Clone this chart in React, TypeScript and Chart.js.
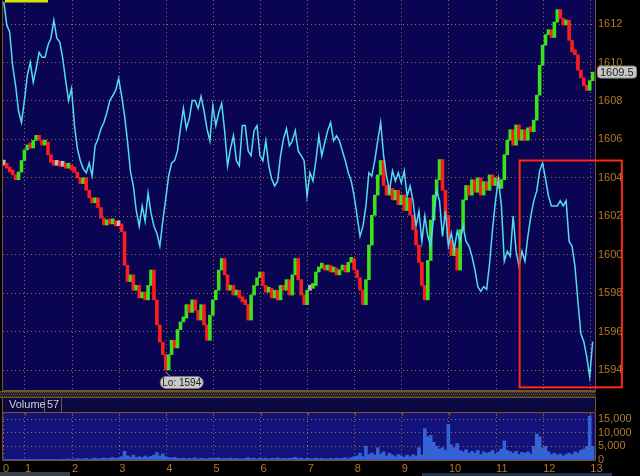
import React, { useEffect, useRef } from "react";
import { Chart, registerables } from "chart.js";

Chart.register(...registerables);
Chart.defaults.font.family = '"Liberation Sans", Arial, sans-serif';

// ---------- data ----------
const T0 = 0.55; // hours, first sample
const STEP = 0.0625; // hours between samples
const X_MIN = 0.533;
const X_MAX = 13.1;
const HOUR_TICKS = [1, 2, 3, 4, 5, 6, 7, 8, 9, 10, 11, 12, 13];

const PRICE_MIN = 1592.96;
const PRICE_MAX = 1613.25;
const PRICE_TICKS = [1594, 1596, 1598, 1600, 1602, 1604, 1606, 1608, 1610, 1612];

const VOLUME_MAX = 17200;
const VOLUME_TICKS = [0, 5000, 10000, 15000];
const VOLUME_LAST = "57";

const CLOSE = [
  1604.66, 1604.5, 1604.3, 1604.15, 1603.9, 1604.3, 1604.9, 1605.45, 1605.7, 1605.55,
  1605.95, 1606.2, 1605.95, 1605.7, 1605.85, 1605.2, 1604.8, 1604.65, 1604.75, 1604.6,
  1604.65, 1604.5, 1604.65, 1604.4, 1604.3, 1604.0, 1603.7, 1604.0, 1603.35, 1602.95,
  1602.7, 1602.95, 1602.45, 1601.9, 1601.55, 1601.7, 1601.6, 1601.7, 1601.5, 1601.6,
  1601.2, 1599.45, 1598.6, 1598.95, 1598.15, 1598.4, 1597.75, 1598.05, 1597.65, 1598.4,
  1599.2, 1597.65, 1596.35, 1595.45, 1594.8, 1594.0, 1594.8, 1595.55, 1595.15, 1596.1,
  1596.5, 1596.7, 1597.4, 1597.0, 1597.65, 1597.1, 1596.6, 1597.4, 1596.35, 1595.55,
  1596.85, 1597.65, 1598.15, 1599.2, 1599.8, 1598.95, 1598.15, 1598.4, 1597.9, 1598.15,
  1597.75, 1597.55, 1597.4, 1596.6, 1597.9, 1598.4, 1598.8, 1599.1, 1598.4, 1598.05,
  1598.25, 1597.75, 1598.15, 1597.65, 1598.4, 1598.15, 1598.7, 1597.9, 1598.95, 1599.8,
  1598.7, 1597.9, 1597.4, 1598.15, 1598.25, 1598.4, 1599.1, 1599.3, 1599.45, 1599.2,
  1599.45, 1599.1, 1599.3, 1598.95, 1599.2, 1599.45, 1599.1, 1599.6, 1599.8, 1599.2,
  1598.8, 1598.15, 1597.4, 1598.7, 1600.5, 1602.05, 1603.1, 1604.15, 1604.9, 1603.6,
  1603.1, 1603.45, 1602.85, 1603.35, 1602.6, 1603.1, 1602.3, 1602.95, 1602.05, 1601.3,
  1600.5, 1599.6, 1598.4, 1597.65, 1599.7, 1601.8, 1603.1, 1603.9, 1604.95, 1603.35,
  1602.05, 1600.75, 1599.95, 1600.35, 1599.2, 1601.3, 1602.85, 1603.6, 1603.1, 1603.9,
  1603.25, 1604.0, 1603.1, 1603.8, 1603.35, 1604.15, 1603.6, 1604.0, 1603.45, 1603.9,
  1605.2, 1605.95, 1606.5, 1605.7, 1606.75, 1605.95, 1606.5, 1605.95, 1606.6, 1606.4,
  1607.0, 1608.3, 1609.85, 1610.9, 1611.45, 1611.7, 1611.3, 1612.1, 1612.75, 1612.3,
  1611.95, 1612.2, 1611.15, 1610.55, 1610.4, 1609.6, 1609.2, 1608.8, 1608.55, 1609.05,
  1609.5,
];

const INDICATOR = [
  99.5, 93.6, 91.8, 83.2, 78.1, 71.6, 68.6, 74.2, 80.7, 84.0,
  78.9, 82.5, 86.6, 85.3, 85.3, 88.4, 90.2, 94.8, 90.2, 89.2,
  85.1, 79.4, 74.2, 77.3, 67.8, 61.9, 58.8, 56.7, 55.7, 58.2,
  54.9, 62.6, 64.4, 67.0, 68.6, 71.1, 74.2, 75.5, 76.8, 79.9,
  75.5, 70.4, 63.9, 56.2, 52.3, 45.9, 42.0, 47.2, 43.3, 50.5,
  45.4, 42.0, 40.2, 36.9, 43.3, 49.0, 54.9, 58.2, 58.8, 61.3,
  67.0, 72.2, 67.0, 69.6, 74.2, 74.2, 72.2, 75.3, 71.6, 67.0,
  63.9, 72.9, 67.8, 71.1, 73.5, 66.5, 57.5, 61.9, 65.2, 58.8,
  57.5, 67.8, 67.8, 61.3, 60.1, 66.5, 67.8, 60.1, 58.8, 63.9,
  57.5, 54.1, 52.3, 53.6, 60.1, 64.4, 67.0, 62.6, 63.9, 66.5,
  61.3, 60.1, 58.8, 49.7, 55.7, 53.6, 58.8, 65.2, 60.1, 63.4,
  66.5, 68.6, 63.9, 65.2, 63.9, 61.3, 58.8, 55.7, 53.6, 49.7,
  44.6, 39.4, 42.0, 47.2, 55.7, 54.9, 58.8, 63.9, 68.6, 60.1,
  54.9, 51.0, 56.2, 53.6, 55.7, 53.1, 56.2, 49.7, 52.3, 48.5,
  42.0, 45.9, 38.1, 44.6, 39.4, 36.9, 44.6, 51.0, 48.5, 39.4,
  45.9, 36.9, 40.2, 36.1, 40.7, 38.1, 42.0, 38.1, 36.9, 34.3,
  30.9, 26.5, 25.3, 26.5, 25.8, 32.5, 41.2, 48.5, 54.1, 47.2,
  33.0, 35.6, 34.3, 44.6, 35.6, 31.7, 35.6, 33.0, 39.4, 44.6,
  48.5, 51.0, 56.2, 58.2, 54.1, 49.7, 47.2, 47.2, 47.2, 48.5,
  47.2, 48.5, 38.1, 36.9, 31.7, 22.7, 14.4, 12.4, 8.5, 3.4,
  12.4,
];

const VOLUME = [
  200, 100, 150, 300, 100, 200, 150, 100, 250, 150,
  100, 200, 150, 300, 200, 100, 150, 250, 200, 150,
  300, 200, 400, 250, 300, 500, 350, 400, 600, 300,
  500, 700, 400, 600, 800, 500, 700, 900, 600, 800,
  1200, 3200, 1500, 1000, 1800, 900, 1200, 800, 1500, 1000,
  1300, 1800, 2700, 1500, 2200, 1200, 900, 700, 1000, 600,
  500, 700, 400, 600, 500, 800, 400, 600, 500, 400,
  700, 500, 600, 800, 400, 600, 500, 700, 400, 600,
  500, 400, 600, 900, 500, 700, 400, 600, 500, 700,
  400, 600, 500, 800, 400, 600, 500, 700, 600, 1000,
  500, 700, 400, 600, 500, 400, 700, 500, 600, 400,
  500, 600, 400, 700, 500, 600, 800, 500, 900, 1200,
  1500, 2500, 1200, 5000, 2000, 2500, 1800, 4500, 2200, 3000,
  1500, 2500, 1800, 1200, 2000, 1500, 1000, 1800, 1200, 2000,
  1500, 4500, 1800, 11500, 8500, 9000, 6500, 5000, 4000, 4500,
  3500, 13000, 5500, 4500, 6000, 3500, 3000, 3800, 2500, 3200,
  2500, 3500, 2000, 3000, 2500, 2800, 3500, 2200, 3000, 4000,
  7000, 3500, 3000, 2500, 3200, 2000, 2800, 2500, 3000, 2200,
  5000, 9500, 8500, 4500, 5000, 3000, 2000, 2500, 1800, 2200,
  1500, 2000, 2500, 2000, 3000, 2500, 3500, 4000, 5000, 16000,
  5000,
];

// highlighted region (hours / price)
const HIGHLIGHT = { x0: 11.5, x1: 13.67, top: 1604.9, bottom: 1593.1 };

// ---------- styles ----------
const MAIN_BG = "#0a0552";
const VOL_BG = "#13117a";
const HEADER_BG = "#0a0940";
const GRID = "#94703f";
const GRID_DASH = [1, 3];
const BORDER = "#7c5222";
const LABEL = "#b07a2a";
const CYAN = "#52dcee";
const UP = "#3be21a";
const DOWN = "#ff1c1c";
const FLAT = "#bdbdbd";
const VOL_COLOR = "#3563d6";

const times = CLOSE.map((_, i) => T0 + i * STEP);

function roundRect(ctx: CanvasRenderingContext2D, x: number, y: number, w: number, h: number, r: number) {
  ctx.beginPath();
  ctx.moveTo(x + r, y);
  ctx.lineTo(x + w - r, y);
  ctx.arcTo(x + w, y, x + w, y + r, r);
  ctx.lineTo(x + w, y + h - r);
  ctx.arcTo(x + w, y + h, x + w - r, y + h, r);
  ctx.lineTo(x + r, y + h);
  ctx.arcTo(x, y + h, x, y + h - r, r);
  ctx.lineTo(x, y + r);
  ctx.arcTo(x, y, x + r, y, r);
  ctx.closePath();
}

const mainDecor = {
  id: "mainDecor",
  beforeDraw(chart: any) {
    const { ctx, chartArea: a, width, height } = chart;
    ctx.save();
    ctx.fillStyle = "#000";
    ctx.fillRect(0, 0, width, height);
    ctx.fillStyle = MAIN_BG;
    ctx.fillRect(a.left, a.top, a.right - a.left, a.bottom - a.top);
    ctx.restore();
  },
  afterDraw(chart: any) {
    const { ctx, chartArea: a, scales } = chart;
    const xs = scales.x;
    const ys = scales.y;
    ctx.save();
    // borders
    ctx.strokeStyle = BORDER;
    ctx.lineWidth = 1;
    ctx.beginPath();
    ctx.moveTo(a.left - 0.5, 0);
    ctx.lineTo(a.left - 0.5, a.bottom + 0.5);
    ctx.lineTo(a.right + 0.5, a.bottom + 0.5);
    ctx.lineTo(a.right + 0.5, 0);
    ctx.stroke();

    // highlight box
    const hx0 = xs.getPixelForValue(HIGHLIGHT.x0);
    const hx1 = xs.getPixelForValue(HIGHLIGHT.x1);
    const hy0 = ys.getPixelForValue(HIGHLIGHT.top);
    const hy1 = ys.getPixelForValue(HIGHLIGHT.bottom);
    ctx.strokeStyle = "#ff2a12";
    ctx.lineWidth = 2;
    ctx.strokeRect(hx0, hy0, hx1 - hx0, hy1 - hy0);

    // last price tag
    const last = CLOSE[CLOSE.length - 1];
    const py = ys.getPixelForValue(last);
    ctx.font = '11px "Liberation Sans", Arial, sans-serif';
    roundRect(ctx, a.right + 2.5, py - 6, 39, 12, 3);
    ctx.fillStyle = "#c9c9c9";
    ctx.fill();
    ctx.strokeStyle = "#8c8c8c";
    ctx.lineWidth = 1;
    ctx.stroke();
    ctx.fillStyle = "#1c1c1c";
    ctx.textBaseline = "middle";
    ctx.textAlign = "left";
    ctx.fillText(last.toFixed(1), a.right + 5, py + 0.5);

    // low label
    let lowIdx = 0;
    CLOSE.forEach((c, i) => {
      if (c < CLOSE[lowIdx]) lowIdx = i;
    });
    const lx = xs.getPixelForValue(times[lowIdx]);
    const ly = ys.getPixelForValue(CLOSE[lowIdx]);
    ctx.strokeStyle = "#a8a8a8";
    ctx.beginPath();
    ctx.moveTo(lx, ly + 2);
    ctx.lineTo(lx + 4, ly + 6);
    ctx.stroke();
    roundRect(ctx, lx - 5.5, ly + 6.5, 43, 12, 6);
    ctx.fillStyle = "#c9c9c9";
    ctx.fill();
    ctx.strokeStyle = "#7a7a7a";
    ctx.stroke();
    ctx.fillStyle = "#1c1c1c";
    ctx.font = '10px "Liberation Sans", Arial, sans-serif';
    ctx.textAlign = "center";
    ctx.fillText("Lo: " + Math.round(CLOSE[lowIdx]), lx + 16, ly + 13);

    // top-left marker bar
    ctx.fillStyle = "#d2e600";
    ctx.fillRect(5, 0, 43, 2.5);
    ctx.restore();
  },
};

const volDecor = {
  id: "volDecor",
  beforeDraw(chart: any) {
    const { ctx, chartArea: a, width, height } = chart;
    ctx.save();
    ctx.fillStyle = "#000";
    ctx.fillRect(0, 0, width, height);
    // separator band
    ctx.fillStyle = "#242424";
    ctx.fillRect(0, 1, a.right + 1, 5);
    ctx.fillStyle = "#4a4a4a";
    for (let yy = 1; yy < 6; yy += 2) {
      for (let xx = (yy % 4 === 1 ? 0 : 1); xx < a.right; xx += 2) {
        ctx.fillRect(xx, yy, 1, 1);
      }
    }
    ctx.strokeStyle = BORDER;
    ctx.lineWidth = 1;
    ctx.beginPath();
    ctx.moveTo(0, 0.5);
    ctx.lineTo(a.right + 1, 0.5);
    ctx.moveTo(0, 6.5);
    ctx.lineTo(a.right + 1, 6.5);
    ctx.stroke();
    // header
    ctx.fillStyle = HEADER_BG;
    ctx.fillRect(a.left, 7, a.right - a.left, 14);
    ctx.beginPath();
    ctx.moveTo(a.left - 0.5, 6.5);
    ctx.lineTo(a.left - 0.5, 21.5);
    ctx.lineTo(a.right + 0.5, 21.5);
    ctx.lineTo(a.right + 0.5, 6.5);
    ctx.moveTo(44.5, 6.5);
    ctx.lineTo(44.5, 21.5);
    ctx.moveTo(61.5, 6.5);
    ctx.lineTo(61.5, 21.5);
    ctx.stroke();
    ctx.fillStyle = "#d2d2d2";
    ctx.font = '11px "Liberation Sans", Arial, sans-serif';
    ctx.textBaseline = "middle";
    ctx.textAlign = "left";
    ctx.fillText("Volume", 9, 14);
    ctx.fillText(VOLUME_LAST, 47, 14);
    // plot background
    ctx.fillStyle = VOL_BG;
    ctx.fillRect(a.left, a.top, a.right - a.left, a.bottom - a.top);
    ctx.restore();
  },
  afterDraw(chart: any) {
    const { ctx, chartArea: a, scales } = chart;
    ctx.save();
    ctx.strokeStyle = BORDER;
    ctx.lineWidth = 1;
    ctx.beginPath();
    ctx.moveTo(a.left - 0.5, a.top);
    ctx.lineTo(a.left - 0.5, a.bottom + 0.5);
    ctx.lineTo(a.right + 0.5, a.bottom + 0.5);
    ctx.lineTo(a.right + 0.5, a.top);
    HOUR_TICKS.forEach((h) => {
      const px = Math.round(scales.x.getPixelForValue(h)) + 0.5;
      ctx.moveTo(px, a.top);
      ctx.lineTo(px, a.top + 3);
    });
    ctx.stroke();
    // toolbar strip
    ctx.fillStyle = "#3a3f4a";
    ctx.fillRect(0, 81, 70, 4);
    ctx.fillStyle = "#24324c";
    ctx.fillRect(422, 82, 190, 3);
    ctx.restore();
  },
};

export default function App() {
  const mainRef = useRef<HTMLCanvasElement>(null);
  const volRef = useRef<HTMLCanvasElement>(null);

  useEffect(() => {
    const opens = CLOSE.map((c, i) => (i === 0 ? c : CLOSE[i - 1]));
    const candles = CLOSE.map((c, i) => ({
      x: times[i],
      y: [Math.min(opens[i], c), Math.max(opens[i], c)],
    }));
    const candleColors = CLOSE.map((c, i) =>
      Math.abs(c - opens[i]) < 0.1 ? FLAT : c > opens[i] ? UP : DOWN
    );

    const main = new Chart(mainRef.current as HTMLCanvasElement, {
      type: "bar",
      data: {
        datasets: [
          {
            type: "line",
            label: "Indicator",
            data: INDICATOR.map((v, i) => ({ x: times[i], y: v })),
            yAxisID: "ind",
            borderColor: CYAN,
            borderWidth: 1.5,
            pointRadius: 0,
            tension: 0,
            order: 0,
          } as any,
          {
            type: "bar",
            label: "Price",
            data: candles,
            yAxisID: "y",
            backgroundColor: candleColors,
            borderWidth: 0,
            barPercentage: 1,
            categoryPercentage: 1,
            minBarLength: 5,
            grouped: false,
            order: 1,
          } as any,
        ],
      },
      options: {
        animation: false,
        responsive: true,
        maintainAspectRatio: false,
        layout: { padding: { left: 3, right: 0, top: 0, bottom: 1 } },
        plugins: { legend: { display: false }, tooltip: { enabled: false } },
        scales: {
          x: {
            type: "linear",
            offset: false,
            min: X_MIN,
            max: X_MAX,
            afterBuildTicks: (s: any) => {
              s.ticks = HOUR_TICKS.map((v) => ({ value: v }));
            },
            ticks: { display: false },
            grid: { color: GRID, drawTicks: false, lineWidth: 1, offset: false },
            border: { display: false, dash: GRID_DASH },
            afterFit: (s: any) => {
              s.height = 0;
              s.paddingLeft = 0;
              s.paddingRight = 0;
            },
          },
          y: {
            position: "right",
            min: PRICE_MIN,
            max: PRICE_MAX,
            afterBuildTicks: (s: any) => {
              s.ticks = PRICE_TICKS.map((v) => ({ value: v }));
            },
            ticks: {
              color: LABEL,
              font: { size: 11 },
              padding: 3,
              autoSkip: false,
              callback: (v: any) => String(v),
            },
            grid: { color: GRID, drawTicks: false, lineWidth: 1 },
            border: { display: false, dash: GRID_DASH },
            afterFit: (s: any) => {
              s.width = 45;
              s.paddingTop = 0;
              s.paddingBottom = 0;
            },
          },
          ind: { display: false, min: 0, max: 100 },
        },
      } as any,
      plugins: [mainDecor],
    });

    const vol = new Chart(volRef.current as HTMLCanvasElement, {
      type: "bar",
      data: {
        datasets: [
          {
            label: "Volume",
            data: VOLUME.map((v, i) => ({ x: times[i], y: v })),
            backgroundColor: VOL_COLOR,
            borderWidth: 0,
            barPercentage: 1,
            categoryPercentage: 1,
          } as any,
        ],
      },
      options: {
        animation: false,
        responsive: true,
        maintainAspectRatio: false,
        layout: { padding: { left: 3, right: 0, top: 22, bottom: 0 } },
        plugins: { legend: { display: false }, tooltip: { enabled: false } },
        scales: {
          x: {
            type: "linear",
            offset: false,
            min: X_MIN,
            max: X_MAX,
            afterBuildTicks: (s: any) => {
              s.ticks = [X_MIN, ...HOUR_TICKS].map((v) => ({ value: v }));
            },
            ticks: {
              color: LABEL,
              font: { size: 11 },
              align: "start",
              padding: 2,
              maxRotation: 0,
              autoSkip: false,
              callback: (v: any) => String(Math.floor(Number(v))),
            },
            grid: { color: GRID, drawTicks: false, lineWidth: 1, offset: false },
            border: { display: false, dash: GRID_DASH },
            afterFit: (s: any) => {
              s.height = 16;
              s.paddingLeft = 0;
              s.paddingRight = 0;
            },
          },
          y: {
            position: "right",
            min: 0,
            max: VOLUME_MAX,
            afterBuildTicks: (s: any) => {
              s.ticks = VOLUME_TICKS.map((v) => ({ value: v }));
            },
            ticks: {
              color: LABEL,
              font: { size: 11 },
              padding: 3,
              autoSkip: false,
              callback: (v: any) => Number(v).toLocaleString("en-US"),
            },
            grid: { color: GRID, drawTicks: false, lineWidth: 1 },
            border: { display: false, dash: GRID_DASH },
            afterFit: (s: any) => {
              s.width = 45;
              s.paddingTop = 0;
              s.paddingBottom = 0;
            },
          },
        },
      } as any,
      plugins: [volDecor],
    });

    return () => {
      main.destroy();
      vol.destroy();
    };
  }, []);

  return (
    <div
      style={{
        position: "fixed",
        left: 0,
        top: 0,
        width: 640,
        height: 476,
        background: "#000",
        overflow: "hidden",
      }}
    >
      <div style={{ position: "absolute", left: 0, top: 0, width: 640, height: 391 }}>
        <canvas ref={mainRef} />
      </div>
      <div style={{ position: "absolute", left: 0, top: 391, width: 640, height: 85 }}>
        <canvas ref={volRef} />
      </div>
    </div>
  );
}
